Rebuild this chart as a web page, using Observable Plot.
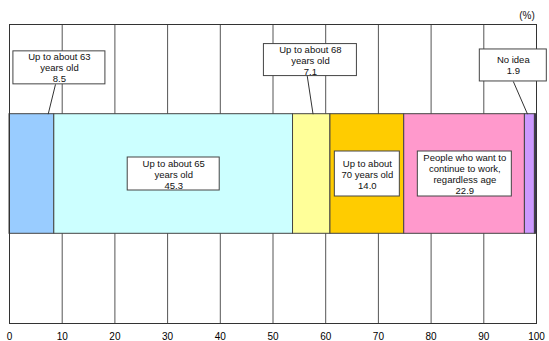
<!DOCTYPE html>
<html>
<head>
<meta charset="utf-8">
<script src="https://cdn.jsdelivr.net/npm/d3@7"></script>
<script src="https://cdn.jsdelivr.net/npm/@observablehq/plot@0.6"></script>
<style>
  html, body { margin: 0; padding: 0; background: #fff; }
  #chart { width: 549px; height: 341px; }
</style>
</head>
<body>
<div id="chart"></div>
<script>
// ---- data ----
const categories = [
  "Up to about 63\nyears old",
  "Up to about 65\nyears old",
  "Up to about 68\nyears old",
  "Up to about\n70 years old",
  "People who want to\ncontinue to work,\nregardless age",
  "No idea",
  "No answer"
];
const values = [8.5, 45.3, 7.1, 14.0, 22.9, 1.9, 0.3];
const colors = ["#99ccff", "#ccffff", "#ffff99", "#ffcc00", "#ff99cc", "#cc99ff", "#332266"];
const xTicks = [0, 10, 20, 30, 40, 50, 60, 70, 80, 90, 100];
const unitLabel = "(%)";

// ---- label placement (annotation layout: box centre in data units, box size in px) ----
const labelLayout = [
  {i: 0, cx: 9.47, cy: 0.855, w: 92, h: 33, leader: [8.73, 7.34]},
  {i: 1, cx: 31.16, cy: 0.50, w: 92, h: 33},
  {i: 2, cx: 57.1, cy: 0.881, w: 93, h: 32, leader: [56.5, 57.6]},
  {i: 3, cx: 67.9, cy: 0.50, w: 65, h: 45},
  {i: 4, cx: 86.4, cy: 0.50, w: 94, h: 45},
  {i: 5, cx: 95.6, cy: 0.863, w: 67, h: 32, leader: [95.6, 98.3]}
];

const W = 549, H = 341;
const margin = {top: 24, right: 13, bottom: 18, left: 9};
const kx = (W - margin.left - margin.right) / 100;
const ky = (H - margin.top - margin.bottom);
const barY1 = 0.3, barY2 = 0.7;

const ends = d3.cumsum(values);
const segs = values.map((v, i) => ({cat: categories[i], value: v, x1: ends[i] - v, x2: ends[i]}));

const labels = labelLayout.map(l => ({
  ...l,
  text: (l.i === 5 ? "No idea" : categories[l.i]) + "\n" + values[l.i].toFixed(1),
  bx1: l.cx - l.w / 2 / kx, bx2: l.cx + l.w / 2 / kx,
  by1: l.cy - l.h / 2 / ky, by2: l.cy + l.h / 2 / ky
}));
const leaders = labels.filter(l => l.leader).map(l => ({
  x1: l.leader[0], y1: l.by1, x2: l.leader[1], y2: barY2
}));

const chart = Plot.plot({
  width: W, height: H,
  marginTop: margin.top, marginRight: margin.right, marginBottom: margin.bottom, marginLeft: margin.left,
  style: {fontFamily: "'Liberation Sans', Arial, sans-serif", background: "#fff"},
  x: {domain: [0, 100], ticks: xTicks, label: null},
  y: {domain: [0, 1], axis: null},
  color: {domain: categories, range: colors},
  marks: [
    Plot.ruleX(xTicks, {stroke: "#555", strokeWidth: 1}),
    Plot.rect(segs, {x1: "x1", x2: "x2", y1: () => barY1, y2: () => barY2, fill: "cat", stroke: "#444", strokeWidth: 1}),
    Plot.frame({stroke: "#333"}),
    Plot.axisX({ticks: xTicks, tickSize: 0, tickPadding: 9, fontSize: 10, tickFormat: d => String(d), label: null}),
    Plot.link(leaders, {x1: "x1", y1: "y1", x2: "x2", y2: "y2", stroke: "#333", strokeWidth: 1}),
    Plot.rect(labels, {x1: "bx1", x2: "bx2", y1: "by1", y2: "by2", fill: "#fff", stroke: "#444", strokeWidth: 1}),
    Plot.text(labels, {x: "cx", y: "cy", text: "text", fontSize: 9.5, lineHeight: 1.16, fill: "#111"}),
    Plot.text([unitLabel], {x: () => 98.2, y: () => 1, dy: -9, text: d => d, fontSize: 10, fill: "#111"})
  ]
});
document.getElementById("chart").appendChild(chart);
</script>
</body>
</html>
